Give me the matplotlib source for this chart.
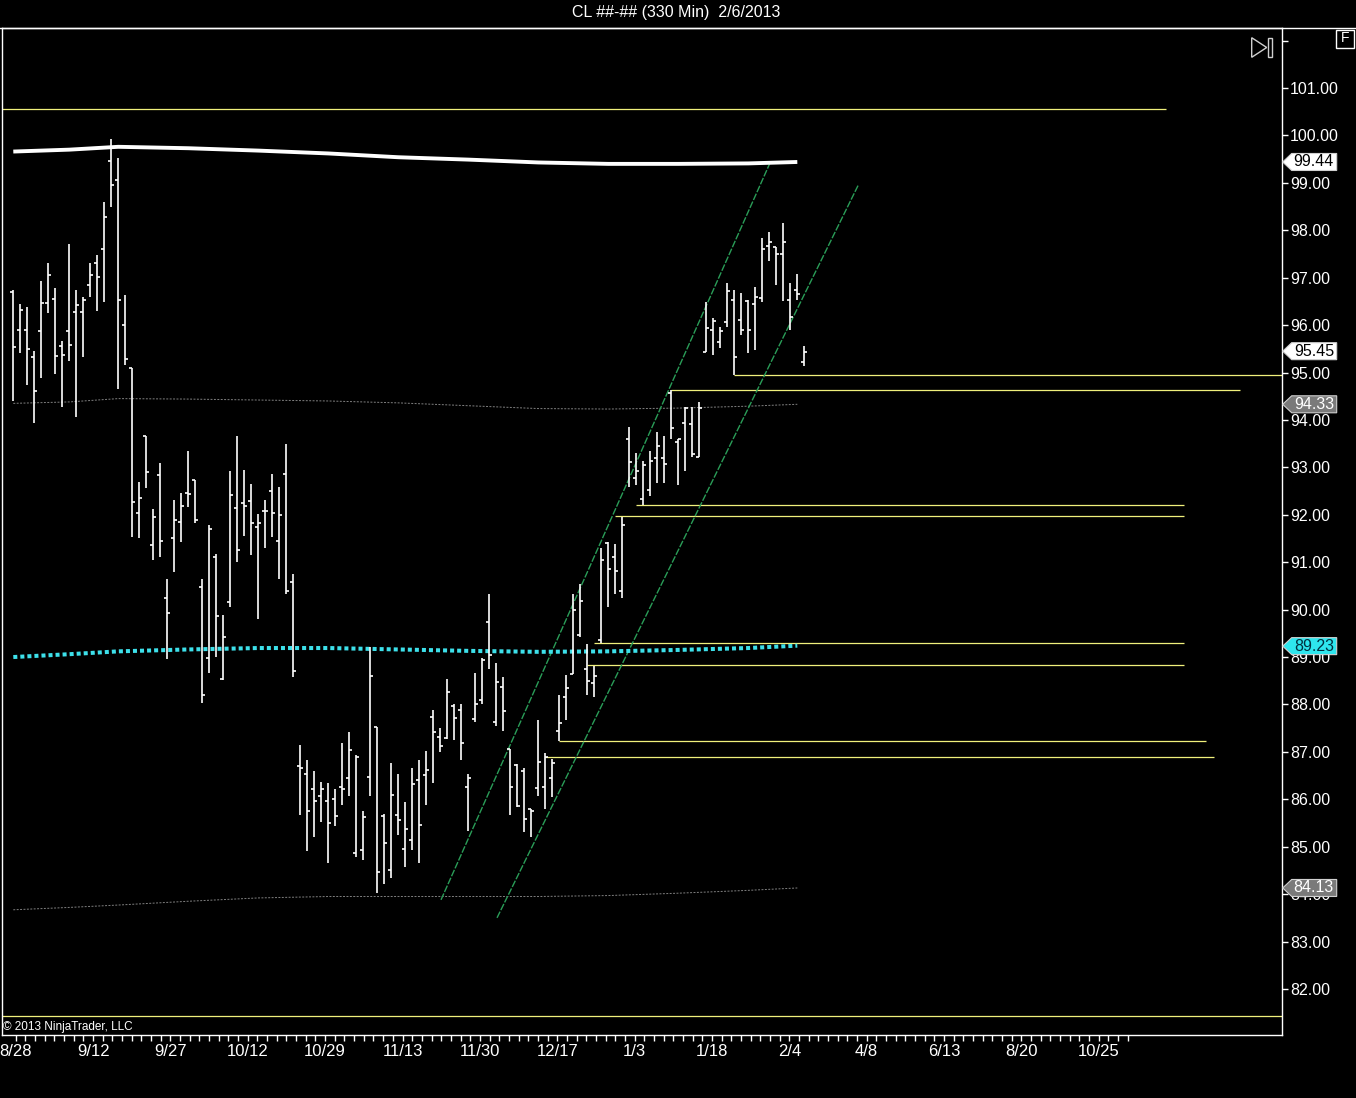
import matplotlib.pyplot as plt
from matplotlib.patches import Polygon, Rectangle
import numpy as np

plt.rcParams['font.family'] = ['Liberation Sans', 'DejaVu Sans']
NARROW = ['Liberation Sans Narrow', 'Liberation Sans', 'DejaVu Sans']

# OHLC, one bar per 330 min session (8/28 .. 2/6)
opens = [96.69, 95.89, 95.89, 95.32, 95.87, 96.46, 96.54, 95.55, 95.87, 96.28,
         96.28, 96.84, 97.32, 97.60, 99.47, 99.05, 96.00, 95.09, 92.03, 93.67,
         91.36, 92.83, 90.24, 91.52, 91.84, 92.45, 92.73, 90.47, 88.97, 91.11,
         88.53, 90.17, 92.14, 92.24, 92.30, 91.75, 92.09, 92.50, 91.44, 92.86,
         90.58, 86.70, 86.53, 86.21, 86.06, 85.96, 86.01, 86.25, 86.44, 84.87,
         84.94, 86.48, 87.53, 85.65, 84.51, 85.66, 84.96, 85.14, 86.41, 86.51,
         87.74, 87.32, 87.30, 87.97, 87.88, 86.25, 87.69, 88.09, 89.73, 87.64,
         88.36, 87.06, 86.72, 86.60, 85.79, 86.23, 86.25, 86.44, 87.45, 88.15,
         88.64, 89.47, 88.75, 88.45, 89.36, 91.40, 91.10, 90.39, 93.59, 92.77,
         92.33, 92.52, 93.19, 93.19, 94.56, 93.54, 93.93, 93.91, 93.21, 95.44,
         95.90, 95.65, 96.07, 96.52, 96.11, 96.51, 96.45, 96.58, 97.67, 97.65,
         97.51, 96.53, 96.75, 95.22]
highs = [96.75, 96.45, 96.39, 95.45, 96.93, 97.30, 96.78, 95.67, 97.71, 96.74,
         96.60, 97.32, 97.47, 98.60, 99.92, 99.52, 96.63, 95.09, 92.69, 93.67,
         92.12, 93.09, 90.65, 92.31, 92.46, 93.34, 92.73, 90.65, 91.78, 91.17,
         89.89, 92.92, 93.67, 92.94, 92.65, 92.02, 92.31, 92.86, 92.59, 93.49,
         90.75, 87.14, 86.83, 86.60, 86.37, 86.34, 86.22, 87.18, 87.41, 86.93,
         85.75, 89.22, 87.53, 85.68, 86.77, 86.53, 85.94, 86.67, 86.82, 87.01,
         87.88, 87.50, 88.54, 88.00, 88.00, 86.53, 88.67, 88.98, 90.33, 88.87,
         88.57, 87.07, 86.74, 86.65, 85.80, 87.67, 86.97, 86.86, 88.20, 88.62,
         90.33, 90.53, 89.28, 88.81, 91.29, 91.43, 91.38, 91.96, 93.86, 93.30,
         93.14, 93.35, 93.74, 93.66, 94.63, 93.59, 94.27, 94.27, 94.37, 96.49,
         96.14, 95.97, 96.88, 96.74, 96.67, 96.53, 96.80, 97.83, 97.97, 97.65,
         98.15, 96.88, 97.07, 95.55]
lows = [94.41, 95.42, 94.74, 93.94, 94.89, 96.26, 94.96, 94.27, 95.25, 94.07,
        95.33, 96.60, 96.30, 96.49, 98.50, 94.65, 95.15, 91.54, 91.52, 92.57,
        91.05, 91.10, 88.95, 90.80, 91.43, 92.17, 91.82, 88.04, 88.66, 89.01,
        88.52, 90.06, 91.01, 91.56, 91.16, 89.80, 91.29, 91.54, 90.65, 90.32,
        88.57, 85.67, 84.92, 85.21, 85.52, 84.65, 85.44, 85.89, 86.08, 84.79,
        84.72, 86.06, 84.03, 84.21, 84.33, 85.25, 84.57, 84.93, 84.66, 85.87,
        86.35, 87.00, 87.27, 87.26, 86.82, 85.34, 87.62, 88.02, 88.74, 87.55,
        87.45, 85.66, 85.84, 85.32, 85.20, 86.06, 85.80, 86.04, 87.23, 87.67,
        88.64, 89.43, 88.20, 88.16, 89.29, 90.05, 90.32, 90.24, 92.58, 92.63,
        92.21, 92.40, 92.66, 92.68, 93.59, 92.63, 92.93, 93.21, 93.21, 95.44,
        95.37, 95.51, 95.97, 94.95, 95.79, 95.42, 95.47, 96.48, 97.35, 96.85,
        96.51, 95.90, 96.53, 95.14]
closes = [95.53, 96.32, 95.49, 94.60, 96.46, 97.05, 95.35, 95.38, 95.59, 96.42,
          96.53, 97.05, 97.01, 98.29, 98.95, 96.52, 95.28, 92.26, 92.35, 92.90,
          91.95, 91.44, 89.93, 91.89, 92.18, 92.43, 91.89, 88.19, 91.70, 89.86,
          89.42, 92.41, 91.25, 92.18, 91.82, 91.82, 92.07, 92.03, 91.99, 90.39,
          88.71, 86.65, 85.76, 85.96, 86.22, 85.51, 85.64, 86.21, 87.05, 86.90,
          85.62, 88.59, 84.47, 85.07, 86.09, 85.56, 85.38, 86.33, 85.45, 86.61,
          87.41, 87.13, 88.26, 87.72, 87.18, 86.45, 88.02, 88.93, 89.04, 88.47,
          87.86, 86.25, 85.86, 85.58, 85.75, 86.79, 86.89, 86.76, 87.60, 88.34,
          89.99, 90.18, 88.50, 88.60, 91.05, 90.85, 90.81, 91.78, 93.11, 92.92,
          93.06, 93.14, 93.44, 93.08, 93.82, 93.59, 94.25, 93.28, 94.25, 95.93,
          96.09, 95.88, 96.71, 95.32, 95.90, 95.90, 96.60, 97.60, 97.76, 97.51,
          97.76, 96.18, 96.66, 95.44]

# indicator lines read at a few bars
ind_bars = [0, 8, 15, 25, 35, 45, 55, 65, 75, 85, 95, 105, 112]
ma_slow = [99.66, 99.70, 99.76, 99.73, 99.68, 99.62, 99.54, 99.49, 99.43, 99.40, 99.40, 99.41, 99.44]
ma_mid = [89.00, 89.06, 89.12, 89.16, 89.19, 89.19, 89.16, 89.13, 89.11, 89.12, 89.15, 89.19, 89.24]
band_up = [94.35, 94.38, 94.45, 94.44, 94.42, 94.40, 94.36, 94.30, 94.24, 94.23, 94.25, 94.29, 94.33]
band_dn = [83.67, 83.72, 83.77, 83.85, 83.92, 83.95, 83.95, 83.95, 83.95, 83.97, 84.02, 84.08, 84.13]

# drawn horizontal lines: price, first bar, last bar
hl_price = [100.56, 94.95, 94.63, 92.21, 91.97, 89.30, 88.83, 87.23, 86.89, 81.43]
hl_from = [-1.7, 103, 94, 89, 86, 83, 82, 78, 76, -1.7]
hl_to = [164.6, 181.2, 175.2, 167.2, 167.2, 167.2, 167.2, 170.4, 171.5, 181.2]

# drawn trend channel: (bar, price) end points
chan_a_bars = [61.1, 108.1]
chan_a_px = [83.88, 99.42]
chan_b_bars = [69.1, 120.7]
chan_b_px = [83.50, 98.95]

date_labels = ['8/28', '9/12', '9/27', '10/12', '10/29', '11/13', '11/30', '12/17',
               '1/3', '1/18', '2/4', '4/8', '6/13', '8/20', '10/25']

tag_values = [99.44, 95.45, 94.33, 89.23, 84.13]
tag_face = ['white', 'white', '#7a7a7a', '#2ee6ee', '#7a7a7a']
tag_text = ['black', 'black', 'white', '#003040', 'white']

W, H = 1356, 1098
fig = plt.figure(figsize=(W / 100, H / 100), dpi=100, facecolor='black')
ax = fig.add_axes([1.5 / W, 1 - 1034.5 / H, 1280 / W, 1007 / H], facecolor='black')
ax.set_xlim(-1.686, 181.17)
ax.set_ylim(81.04, 102.276)

x = np.arange(len(opens))
ax.vlines(x, lows, highs, colors='white', lw=1.2, zorder=4)
ax.hlines(opens, x - 0.45, x, colors='white', lw=1.2, zorder=4)
ax.hlines(closes, x, x + 0.45, colors='white', lw=1.2, zorder=4)

ax.plot(ind_bars, ma_slow, color='white', lw=2.8, solid_capstyle='butt', zorder=3)
ax.plot(ind_bars, ma_mid, color='#3de0ea', lw=2.9, dashes=(1, 0.75),
        dash_capstyle='butt', zorder=3)
ax.plot(ind_bars, band_up, color='#808080', lw=0.7, dashes=(2, 1.5), zorder=2)
ax.plot(ind_bars, band_dn, color='#808080', lw=0.7, dashes=(2, 1.5), zorder=2)

ax.hlines(hl_price, hl_from, hl_to, colors='#f0f07c', lw=0.9, zorder=2)
ax.plot(chan_a_bars, chan_a_px, color='#2a9d58', lw=1.0, dashes=(5, 1.2), zorder=2)
ax.plot(chan_b_bars, chan_b_px, color='#2a9d58', lw=1.0, dashes=(5, 1.2), zorder=2)

for s in ax.spines.values():
    s.set_color('white')
    s.set_linewidth(1.0)

yt = np.arange(82, 103)
ax.yaxis.tick_right()
ax.set_yticks(yt)
ax.set_yticklabels(['%.2f' % v if v < 102 else '' for v in yt])
ax.tick_params(axis='y', colors='white', length=4, width=1, pad=2, labelsize=11.5)

date_pos = np.arange(len(date_labels)) * 11.05 + 0.35
ax.set_xticks(date_pos)
ax.set_xticklabels(date_labels, fontfamily=NARROW)
ax.set_xticks(np.arange(0, 159.5, 11.05 / 8) + 0.35, minor=True)
ax.tick_params(axis='x', which='both', colors='white', length=4, width=1,
               pad=3, labelsize=12)

# overlay in pixel units for the window decorations and price tags
ov = fig.add_axes([0, 0, 1, 1], zorder=5)
ov.set_xlim(0, W)
ov.set_ylim(H, 0)
ov.axis('off')
ov.patch.set_alpha(0)

ov.plot([0, W], [27.5, 27.5], color='white', lw=1.0)
ov.text(676, 13, 'CL ##-## (330 Min)  2/6/2013', ha='center', va='center',
        color='white', fontsize=11.5, family=NARROW)
ov.text(3, 1027, '\u00a9 2013 NinjaTrader, LLC', ha='left', va='center',
        color='white', fontsize=8.5, family=NARROW)

ov.add_patch(Rectangle((1336, 29.5), 18, 18, fill=False, ec='white', lw=1.0))
ov.text(1345, 38.5, 'F', ha='center', va='center', color='white', fontsize=10)
ov.add_patch(Polygon([(1251.7, 37.7), (1266.7, 47.5), (1251.7, 57.3)], closed=True,
                     fill=False, ec='#cfcfcf', lw=1.0))
ov.add_patch(Rectangle((1268.3, 37.7), 3.4, 19.6, fill=False, ec='#cfcfcf', lw=1.0))

for val, fc, tc in zip(tag_values, tag_face, tag_text):
    yy = H - ax.transData.transform((0, val))[1]
    pts = [(1282.7, yy), (1291.7, yy - 8.5), (1336.7, yy - 8.5),
           (1336.7, yy + 8.5), (1291.7, yy + 8.5)]
    ov.add_patch(Polygon(pts, closed=True, fc=fc, ec='#d0d0d0', lw=0.8))
    ov.text(1334, yy, '%.2f' % val, ha='right', va='center', color=tc, fontsize=11.5)

fig.savefig('out.png', dpi=100, facecolor='black')
